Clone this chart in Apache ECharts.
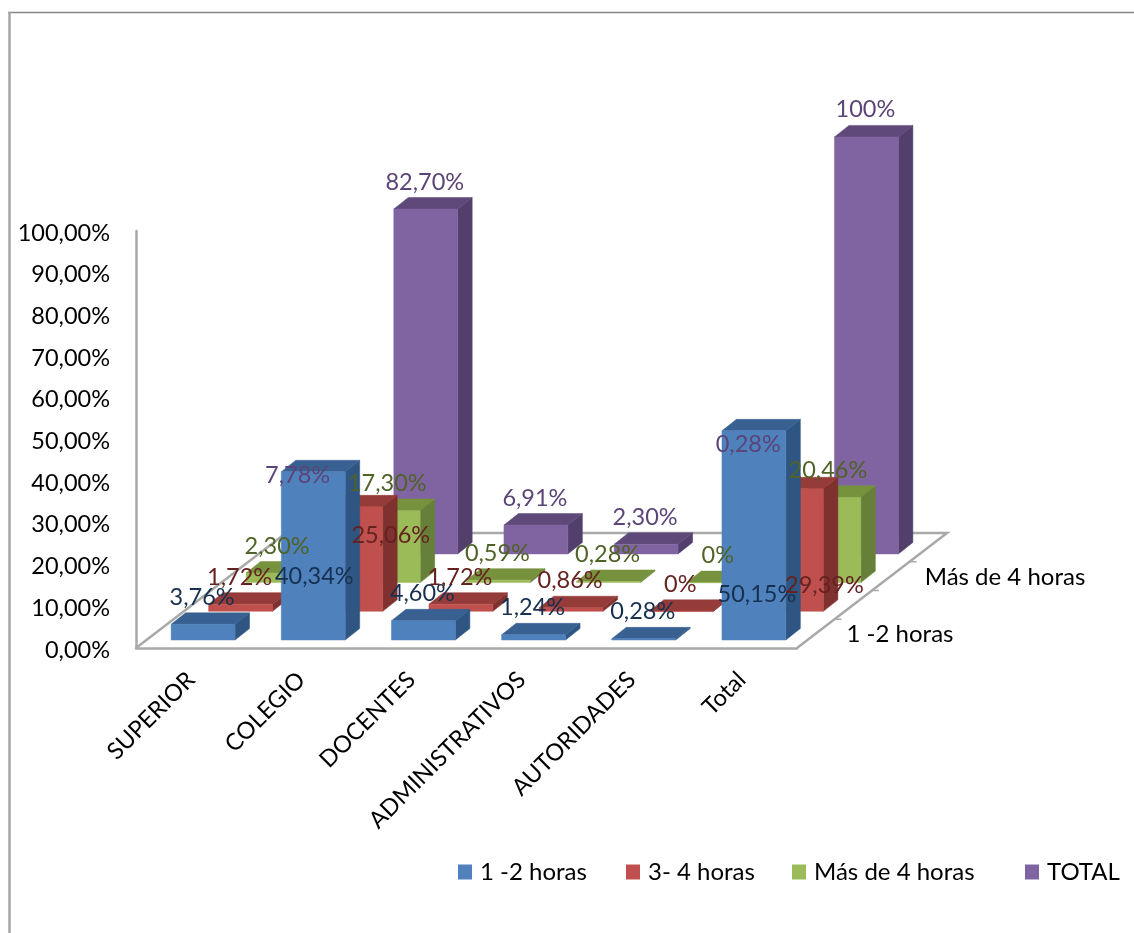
<!DOCTYPE html>
<html>
<head>
<meta charset="utf-8">
<style>html,body{margin:0;padding:0;background:#fff}#chart{width:1134px;height:933px}</style>
<script src="https://cdn.jsdelivr.net/npm/echarts@6/dist/echarts.min.js"></script>
</head>
<body>
<div id="chart"></div>
<script>
// Horas de uso por estamento
const categories = ['SUPERIOR', 'COLEGIO', 'DOCENTES', 'ADMINISTRATIVOS', 'AUTORIDADES', 'Total'];
const seriesNames = ['1 -2 horas', '3- 4 horas', 'Más de 4 horas', 'TOTAL'];
const horas1a2 = [3.76, 40.34, 4.60, 1.24, 0.28, 50.15];
const horas3a4 = [1.72, 25.06, 1.72, 0.86, 0, 29.39];
const horasMas4 = [2.30, 17.30, 0.59, 0.28, 0, 20.46];
const horasTotal = [7.78, 82.70, 6.91, 2.30, 0.28, 100];
const depthLabels = ['1 -2 horas', 'Más de 4 horas'];
const rows = [horas1a2, horas3a4, horasMas4, horasTotal];

// Shading of each row: front, top and side faces of the boxes, label colour
const palette = [
  {front: '#4F81BD', top: '#386192', side: '#2F5682', text: '#17304F'},
  {front: '#C0504D', top: '#953B39', side: '#7F312F', text: '#652220'},
  {front: '#9BBB59', top: '#76923C', side: '#66803A', text: '#4F6228'},
  {front: '#8064A2', top: '#5F497A', side: '#533F6C', text: '#5B4578'}
];

// Oblique projection used for the depth of the chart
const FONT = 'Lato, Carlito, sans-serif';
const ROW_DX = 37.5, ROW_DY = -28.7;     // shift from one row to the next
const BOX_DX = 14.5, BOX_DY = -11.5;     // depth of a single box
const FLOOR_DX = 150, FLOOR_DY = -115;   // depth of the whole floor
const BASE_LIFT = 8, BAND_SHIFT = 12, BOX_RATIO = 0.58;
const LEGEND_LEFT = [458, 626, 792, 1025];

// Labels that sit away from their default place above the box: "row,category" -> [dx, dy]
const labelNudges = {
  '0,1': [1, 105], '0,5': [3, 164],
  '1,1': [40, 29], '1,5': [33, 97],
  '3,0': [-18, -46], '3,4': [-8, -108]
};

function boxPoint(api, cat, value, row) {
  const p = api.coord([cat, value]);
  return [p[0] + BAND_SHIFT + row * ROW_DX, p[1] - BASE_LIFT + row * ROW_DY];
}

function renderBox(row) {
  return function (params, api) {
    const cat = api.value(0), value = api.value(1);
    const w = api.size([1, 0])[0] * BOX_RATIO;
    const top = boxPoint(api, cat, value, row), base = boxPoint(api, cat, 0, row);
    const l = top[0] - w / 2, r = top[0] + w / 2, t = top[1], b = base[1];
    const c = palette[row];
    const face = (points, fill) => ({
      type: 'polygon', shape: {points},
      style: {fill, stroke: fill, lineWidth: 0.5}
    });
    return {type: 'group', children: [
      face([[r, t], [r + BOX_DX, t + BOX_DY], [r + BOX_DX, b + BOX_DY], [r, b]], c.side),
      face([[l, t], [r, t], [r + BOX_DX, t + BOX_DY], [l + BOX_DX, t + BOX_DY]], c.top),
      face([[l, t], [r, t], [r, b], [l, b]], c.front)
    ]};
  };
}

function formatPercent(v) {
  return (Number.isInteger(v) ? String(v) : v.toFixed(2).replace('.', ',')) + '%';
}

function renderLabel(params, api) {
  const cat = api.value(0), value = api.value(1), row = api.value(2);
  const p = boxPoint(api, cat, value, row);
  const n = labelNudges[row + ',' + cat] || [-1, -27];
  return {
    type: 'text',
    style: {
      x: p[0] + n[0], y: p[1] + n[1], text: formatPercent(value),
      fill: palette[row].text, font: '23.5px ' + FONT, align: 'center', verticalAlign: 'middle'
    }
  };
}

// Floor outline and the tick marks on its right edge
function renderFloor(params) {
  const g = params.coordSys;
  const x0 = g.x, x1 = g.x + g.width, y = g.y + g.height;
  const stroke = {stroke: '#A9A9A9', lineWidth: 2.5, fill: null};
  const children = [{
    type: 'polyline',
    shape: {points: [[x0, y], [x0 + FLOOR_DX, y + FLOOR_DY], [x1 + FLOOR_DX, y + FLOOR_DY], [x1, y]]},
    style: stroke
  }];
  [0.25, 0.5, 0.75].forEach(f => {
    const px = x1 + f * FLOOR_DX, py = y + f * FLOOR_DY;
    children.push({type: 'line', shape: {x1: px, y1: py, x2: px + 7, y2: py}, style: {stroke: '#A9A9A9', lineWidth: 1.5}});
  });
  return {type: 'group', children};
}

const boxSeries = rows.map((values, row) => ({
  name: seriesNames[row],
  type: 'custom',
  coordinateSystem: 'cartesian2d',
  z: 5 - row,
  silent: true,
  itemStyle: {color: palette[row].front},
  encode: {x: 0, y: 1},
  renderItem: renderBox(row),
  data: values.map((v, i) => [i, v])
}));

const labelData = [];
rows.forEach((values, row) => values.forEach((v, i) => labelData.push([i, v, row])));

const chart = echarts.init(document.getElementById('chart'), null, {renderer: 'canvas'});
chart.setOption({
  animation: false,
  backgroundColor: '#fff',
  grid: {left: 136, top: 231, width: 661, height: 417, containLabel: false},
  xAxis: {
    type: 'category',
    data: categories,
    axisLine: {show: true, lineStyle: {color: '#A9A9A9', width: 2.5}},
    axisTick: {show: false},
    axisLabel: {rotate: 45, interval: 0, margin: 28, color: '#000', fontFamily: FONT, fontSize: 23.5}
  },
  yAxis: {
    type: 'value',
    min: 0, max: 100, interval: 10,
    axisLine: {show: true, lineStyle: {color: '#A9A9A9', width: 2.5}},
    axisTick: {show: false},
    splitLine: {show: false},
    axisLabel: {
      margin: 26, color: '#000', fontFamily: FONT, fontSize: 23.5,
      verticalAlign: 'top', padding: [-10, 0, 0, 0],
      formatter: v => v.toFixed(2).replace('.', ',') + '%'
    }
  },
  legend: seriesNames.map((name, i) => ({
    data: [name],
    left: LEGEND_LEFT[i], top: 860,
    padding: 0,
    icon: 'rect', itemWidth: 14, itemHeight: 15,
    selectedMode: false,
    textStyle: {color: '#000', fontFamily: FONT, fontSize: 24, padding: [0, 0, 0, 3]}
  })),
  graphic: [
    {type: 'line', shape: {x1: 8, y1: 12.5, x2: 1134, y2: 12.5}, style: {stroke: '#868686', lineWidth: 1.5}},
    {type: 'line', shape: {x1: 9.5, y1: 12, x2: 9.5, y2: 933}, style: {stroke: '#A6A6A6', lineWidth: 2.5}},
    {type: 'text', x: 900, y: 634, style: {text: depthLabels[0], fill: '#000', font: '24px ' + FONT, align: 'center', verticalAlign: 'middle'}},
    {type: 'text', x: 1005, y: 577, style: {text: depthLabels[1], fill: '#000', font: '24px ' + FONT, align: 'center', verticalAlign: 'middle'}}
  ],
  series: [
    {type: 'custom', coordinateSystem: 'cartesian2d', z: 1, silent: true, renderItem: renderFloor, data: [[0, 0]], encode: {x: 0, y: 1}},
    ...boxSeries,
    {type: 'custom', coordinateSystem: 'cartesian2d', z: 10, silent: true, renderItem: renderLabel, data: labelData, encode: {x: 0, y: 1}}
  ]
});
</script>
</body>
</html>
